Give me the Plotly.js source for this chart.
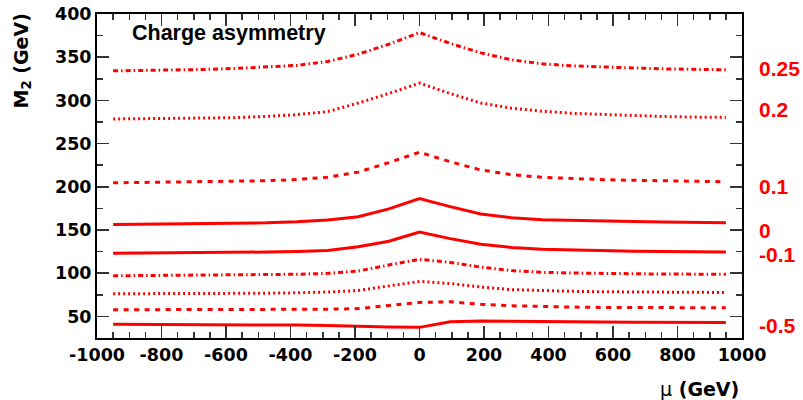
<!DOCTYPE html>
<html>
<head>
<meta charset="utf-8">
<script src="https://cdn.plot.ly/plotly-3.0.1.min.js"></script>
<style>
  html, body { margin: 0; padding: 0; background: #fff; }
  #chart { width: 803px; height: 400px; }
</style>
</head>
<body>
<div id="chart"></div>
<script>
// mu (GeV) grid shared by all contours
const mu = [-950, -855, -760, -665, -570, -475, -380, -285, -190, -95, 0,
            95, 190, 285, 380, 475, 570, 665, 760, 855, 950];

// M2 (GeV) contours of constant charge asymmetry
const m2_p025 = [334.2, 334.5, 335.0, 335.8, 337.0, 338.5, 340.5, 345.0, 353.5, 365.0, 378.5,
                 366.0, 355.0, 347.0, 342.3, 340.0, 338.5, 337.5, 336.5, 336.0, 335.4];
const m2_p020 = [278.5, 278.7, 279.0, 279.5, 280.0, 281.5, 283.5, 287.0, 297.0, 308.0, 320.0,
                 308.0, 297.0, 291.0, 287.5, 285.0, 283.5, 282.3, 281.3, 280.7, 280.3];
const m2_p010 = [204.6, 205.0, 205.5, 205.8, 206.3, 207.0, 208.5, 211.0, 217.0, 228.0, 240.0,
                 229.0, 219.5, 214.0, 211.0, 209.5, 208.3, 207.5, 206.8, 206.2, 205.8];
const m2_p000 = [156.5, 156.7, 157.0, 157.2, 157.5, 158.3, 159.5, 161.5, 165.4, 174.5, 186.5,
                 177.0, 168.5, 164.3, 162.0, 161.0, 160.3, 159.8, 159.3, 158.8, 158.5];
const m2_m010 = [123.0, 123.2, 123.5, 123.8, 124.0, 124.5, 125.2, 126.3, 130.5, 137.0, 147.7,
                 140.0, 133.5, 129.8, 127.8, 126.8, 126.0, 125.5, 125.1, 124.8, 124.6];
const m2_m020 = [97.0, 97.2, 97.4, 97.7, 98.0, 98.3, 98.8, 99.8, 102.5, 109.5, 116.0,
                 112.5, 107.0, 103.0, 101.0, 100.2, 99.6, 99.2, 99.0, 98.9, 98.9];
const m2_m030 = [76.2, 76.2, 76.2, 76.3, 76.5, 76.8, 77.3, 78.2, 80.0, 85.5, 90.5,
                 88.0, 84.0, 81.0, 79.6, 79.0, 78.5, 78.2, 78.0, 77.8, 77.7];
const m2_m040 = [57.7, 57.7, 57.7, 57.7, 57.7, 57.8, 58.0, 58.3, 59.0, 63.0, 66.2,
                 66.9, 64.0, 62.3, 61.3, 60.8, 60.4, 60.2, 60.1, 60.0, 60.0];
const m2_m050 = [40.8, 40.8, 40.7, 40.6, 40.5, 40.3, 40.0, 39.5, 38.3, 37.7, 37.3,
                 43.8, 44.6, 44.5, 44.0, 43.7, 43.4, 43.2, 43.1, 43.0, 43.0];

// asymmetry values of the contours, top to bottom
const asymNames = ['0.25', '0.2', '0.1', '0', '-0.1', '-0.2', '-0.3', '-0.4', '-0.5'];
const asymSeries = [m2_p025, m2_p020, m2_p010, m2_p000, m2_m010, m2_m020, m2_m030, m2_m040, m2_m050];

// labels written at the right-hand side of the frame
const sideLabels = ['0.25', '0.2', '0.1', '0', '-0.1', '-0.5'];
const sideLabelY = [337.5, 289, 200, 150, 122, 40];

const xTickVals = [-1000, -800, -600, -400, -200, 0, 200, 400, 600, 800, 1000];
const yTickVals = [50, 100, 150, 200, 250, 300, 350, 400];

const RED = '#ff0000';
const DASHDOT = '5px,3px,1.5px,3px';
const DOT = '2px,3px';
const DASH = '5px,5.5px';
const dashes = [DASHDOT, DOT, DASH, 'solid', 'solid', DASHDOT, DOT, DASH, 'solid'];

const traces = asymSeries.map((ys, i) => ({
  type: 'scatter',
  mode: 'lines',
  name: 'A = ' + asymNames[i],
  x: mu,
  y: ys,
  line: { color: RED, width: 3, dash: dashes[i] },
  hoverinfo: 'x+y+name'
}));

const tickFont = { family: 'DejaVu Sans', size: 17.5, color: '#000', weight: 'bold' };
const axisCommon = {
  showgrid: false,
  zeroline: false,
  showline: true,
  linecolor: '#000',
  linewidth: 2,
  mirror: 'ticks',
  ticks: 'inside',
  ticklen: 12,
  tickwidth: 1.5,
  tickcolor: '#333',
  tickfont: tickFont,
  tickmode: 'array'
};

const annotations = [
  {
    text: 'Charge asymmetry',
    xref: 'paper', yref: 'paper',
    x: (130 - 97) / 645, y: (337.7 - 33) / 323.7,
    xanchor: 'left', yanchor: 'middle',
    showarrow: false,
    font: { family: 'Liberation Sans, Arial, sans-serif', size: 21.5, color: '#000', weight: 'bold' }
  },
  {
    text: 'M<sub>2</sub> (GeV)',
    xref: 'paper', yref: 'paper',
    x: (22 - 97) / 645, y: (337.7 - 12) / 323.7,
    xanchor: 'center', yanchor: 'top',
    textangle: -90,
    showarrow: false,
    font: { family: 'DejaVu Sans', size: 19, color: '#000', weight: 'bold' }
  },
  {
    text: '<span style="font-weight:normal">μ</span> (GeV)',
    xref: 'paper', yref: 'paper',
    x: (741 - 97) / 645, y: (337.7 - 389) / 323.7,
    xanchor: 'right', yanchor: 'middle',
    showarrow: false,
    font: { family: 'DejaVu Sans', size: 19, color: '#000', weight: 'bold' }
  }
].concat(sideLabels.map((t, i) => ({
  text: t,
  xref: 'paper', yref: 'y',
  x: (757 - 97) / 645, y: sideLabelY[i],
  xanchor: 'left', yanchor: 'middle',
  showarrow: false,
  font: { family: 'Liberation Sans, Arial, sans-serif', size: 21, color: RED, weight: 'bold' }
})));

const layout = {
  width: 803,
  height: 400,
  margin: { l: 97, r: 61, t: 14, b: 62, pad: 0 },
  paper_bgcolor: '#fff',
  plot_bgcolor: '#fff',
  showlegend: false,
  xaxis: Object.assign({}, axisCommon, {
    range: [-1000, 1000],
    tickvals: xTickVals,
    ticktext: xTickVals.map(String),
    minor: { dtick: 50, tick0: 0, ticks: 'inside', ticklen: 6, tickwidth: 1.5, tickcolor: '#333' }
  }),
  yaxis: Object.assign({}, axisCommon, {
    range: [25, 400],
    tickvals: yTickVals,
    ticktext: yTickVals.map(String),
    minor: { dtick: 25, tick0: 0, ticks: 'inside', ticklen: 6, tickwidth: 1.5, tickcolor: '#333' }
  }),
  annotations: annotations
};

Plotly.newPlot('chart', traces, layout, { displayModeBar: false, staticPlot: true });
</script>
</body>
</html>
